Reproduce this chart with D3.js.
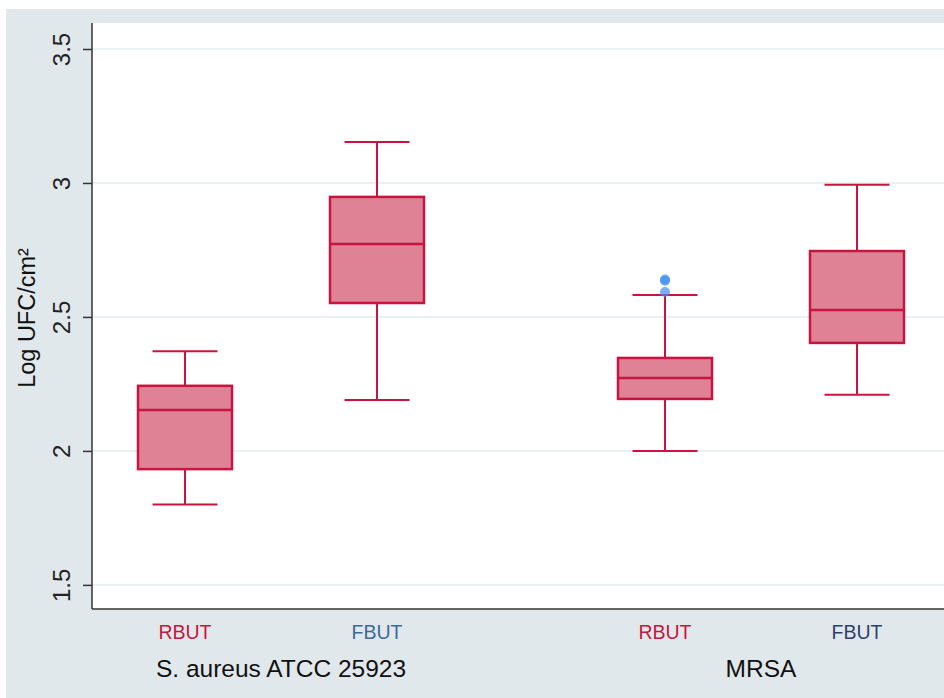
<!DOCTYPE html>
<html>
<head>
<meta charset="utf-8">
<script src="https://cdn.jsdelivr.net/npm/d3@7"></script>
<style>
  body { margin: 0; background: #fff; }
  text { font-family: "Liberation Sans", Arial, sans-serif; }
</style>
</head>
<body>
<div id="visual"></div>
<script>
// box plot values
const categories = ["RBUT", "FBUT", "RBUT", "FBUT"];
const groups = ["S. aureus ATCC 25923", "MRSA"];
const groupOf = [0, 0, 1, 1];
const positions = [1, 2, 3.5, 4.5];
const whiskerLow = [1.80, 2.19, 2.00, 2.21];
const q1 = [1.932, 2.552, 2.194, 2.403];
const median = [2.153, 2.772, 2.272, 2.526];
const q3 = [2.243, 2.948, 2.347, 2.746];
const whiskerHigh = [2.372, 3.153, 2.582, 2.993];
const outliers = [[], [], [2.64, 2.635, 2.593], []];
const yTicks = [1.5, 2, 2.5, 3, 3.5];
const labelColors = ["#c8143f", "#3d6a97", "#c8143f", "#2f3f6b"];

const width = 944, height = 698;
const margin = {top: 23, right: 0, bottom: 89, left: 92};

const svg = d3.select("#visual")
    .append("svg")
    .attr("width", width)
    .attr("height", height);

// outer stata-like background
svg.append("rect")
    .attr("x", 6).attr("y", 9)
    .attr("width", width - 6).attr("height", height - 9)
    .attr("fill", "#e1e8eb");

svg.append("rect")
    .attr("x", margin.left).attr("y", margin.top)
    .attr("width", width - margin.left - margin.right)
    .attr("height", height - margin.top - margin.bottom)
    .attr("fill", "#fff");

let y = d3.scaleLinear()
    .domain([1.41, 3.597])
    .range([height - margin.bottom, margin.top]);

let x = d3.scaleLinear()
    .domain([1, 2])
    .range([185, 377]);

// gridlines
svg.append("g")
    .selectAll("line")
    .data(yTicks)
    .enter().append("line")
    .attr("x1", margin.left).attr("x2", width)
    .attr("y1", d => y(d)).attr("y2", d => y(d))
    .attr("stroke", "#eaf1f3")
    .attr("stroke-width", 2);

// y axis
let yAxis = svg.append("g")
    .attr("transform", "translate(" + margin.left + ",0)")
    .call(d3.axisLeft(y).tickValues(yTicks).tickSize(9).tickFormat(d3.format("")));
yAxis.select(".domain").attr("stroke", "#333").attr("stroke-width", 1.5)
    .attr("d", "M0," + y(3.597) + "V" + y(1.41));
yAxis.selectAll(".tick line").attr("stroke", "#333").attr("stroke-width", 1.5);
yAxis.selectAll(".tick text")
    .attr("x", null).attr("dy", null)
    .attr("transform", "translate(-28,0) rotate(-90)")
    .attr("text-anchor", "middle")
    .attr("dominant-baseline", "middle")
    .style("font-size", "24px")
    .style("fill", "#222");

// x axis line
svg.append("line")
    .attr("x1", margin.left).attr("x2", width)
    .attr("y1", y(1.41)).attr("y2", y(1.41))
    .attr("stroke", "#333").attr("stroke-width", 1.5);

// y title
svg.append("text")
    .attr("transform", "translate(35," + 318 + ") rotate(-90)")
    .attr("text-anchor", "middle")
    .style("font-size", "23.5px")
    .style("fill", "#111")
    .text("Log UFC/cm²");

// boxes
const boxW = 94, capW = 65;
const stroke = "#c8143f", fill = "#df8296";
let boxes = svg.append("g").selectAll("g")
    .data(positions.map((p, i) => i))
    .enter().append("g");

boxes.append("line")
    .attr("x1", i => x(positions[i])).attr("x2", i => x(positions[i]))
    .attr("y1", i => y(whiskerLow[i])).attr("y2", i => y(whiskerHigh[i]))
    .attr("stroke", stroke).attr("stroke-width", 2);

boxes.selectAll(".cap")
    .data(i => [[i, whiskerLow[i]], [i, whiskerHigh[i]]])
    .enter().append("line")
    .attr("class", "cap")
    .attr("x1", d => x(positions[d[0]]) - capW / 2)
    .attr("x2", d => x(positions[d[0]]) + capW / 2)
    .attr("y1", d => y(d[1])).attr("y2", d => y(d[1]))
    .attr("stroke", stroke).attr("stroke-width", 2);

boxes.append("rect")
    .attr("x", i => x(positions[i]) - boxW / 2)
    .attr("y", i => y(q3[i]))
    .attr("width", boxW)
    .attr("height", i => y(q1[i]) - y(q3[i]))
    .attr("fill", fill)
    .attr("stroke", stroke).attr("stroke-width", 2.5);

boxes.append("line")
    .attr("x1", i => x(positions[i]) - boxW / 2)
    .attr("x2", i => x(positions[i]) + boxW / 2)
    .attr("y1", i => y(median[i])).attr("y2", i => y(median[i]))
    .attr("stroke", stroke).attr("stroke-width", 2.5);

boxes.selectAll("circle")
    .data(i => outliers[i].map(v => [i, v]))
    .enter().append("circle")
    .attr("cx", d => x(positions[d[0]]))
    .attr("cy", d => y(d[1]))
    .attr("r", 5)
    .attr("fill", "#3d8ef0")
    .attr("fill-opacity", 0.7);

// category labels
svg.append("g").selectAll("text")
    .data(categories)
    .enter().append("text")
    .attr("x", (d, i) => x(positions[i]))
    .attr("y", 639)
    .attr("text-anchor", "middle")
    .style("font-size", "19.5px")
    .style("fill", (d, i) => labelColors[i])
    .text(d => d);

// group labels
svg.append("g").selectAll("text")
    .data(groups)
    .enter().append("text")
    .attr("x", (d, g) => {
        let idx = positions.filter((p, i) => groupOf[i] === g);
        return x(d3.mean(idx));
    })
    .attr("y", 677)
    .attr("text-anchor", "middle")
    .style("font-size", "24.5px")
    .style("fill", "#111")
    .text(d => d);
</script>
</body>
</html>
